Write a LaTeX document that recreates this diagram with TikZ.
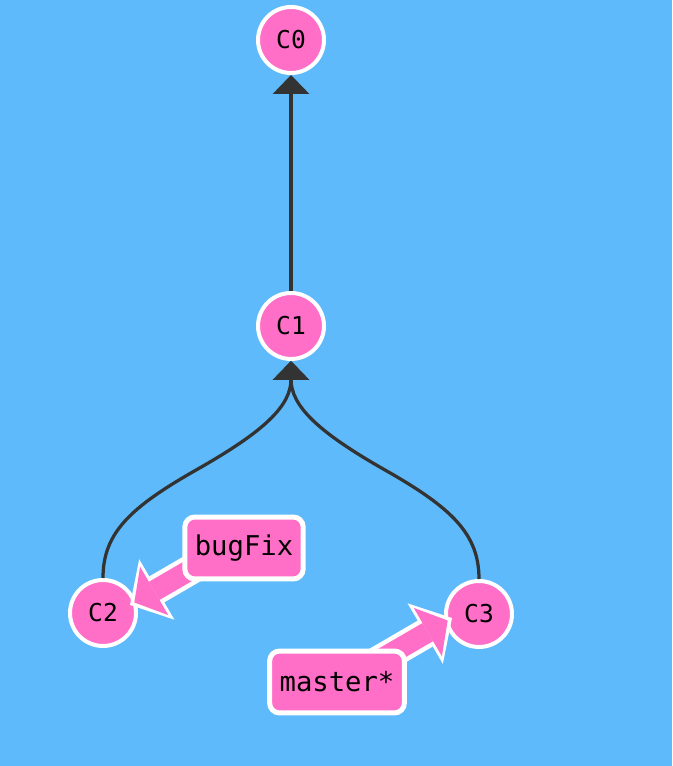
\documentclass[tikz,border=0pt]{standalone}
\usepackage{fontspec}
\setmonofont{DejaVu Sans Mono}
\usetikzlibrary{positioning,calc,arrows.meta}
\definecolor{gitbg}{RGB}{94,186,250}
\definecolor{gitpink}{RGB}{255,110,199}
\definecolor{gitedge}{RGB}{51,51,51}
\pgfdeclarelayer{bg}
\pgfdeclarelayer{fg}
\pgfsetlayers{bg,main,fg}

\begin{document}
\begin{tikzpicture}[x=0.02cm, y=0.02cm,
    commit/.style={circle, fill=gitpink, draw=white, line width=0.08cm, minimum size=1.32cm, inner sep=0pt, font=\ttfamily\fontsize{14}{16}\selectfont},
    branch/.style={rectangle, rounded corners=0.2cm, fill=gitpink, draw=white, line width=0.1cm, minimum height=1.24cm, inner xsep=0.2cm, font=\ttfamily\fontsize{15.5}{18}\selectfont},
    parent/.style={gitedge, line width=0.065cm, -{Triangle[length=0.38cm, width=0.72cm]}},
    ptrout/.style={white, line width=0.6cm, -{Triangle[length=0.62cm, width=1.4cm, line width=0pt]}},
    ptrin/.style={gitpink, line width=0.42cm, shorten >=0.1cm, -{Triangle[length=0.46cm, width=1.12cm, line width=0pt]}}]

    \begin{pgfonlayer}{bg}
        \fill[gitbg] (0,0) rectangle (672,766);
    \end{pgfonlayer}
    \useasboundingbox (0,0) rectangle (672,766);

    % commits
    \node[commit] (C0) at (291,726) {C0};
    \node[commit] (C1) at (291,440) {C1};
    \node[commit] (C2) at (103,153) {C2};
    \node[commit] (C3) at (479,152) {C3};

    \draw[parent] (C1.north) -- (C0.south);
    \draw[parent] (C2.north) .. controls +(0,45) and +(-67,-38) .. ($(C2.north)!0.5!(C1.south)$)
        .. controls +(67,38) and +(0,-45) .. (C1.south);
    \draw[parent] (C3.north) .. controls +(0,45) and +(67,-38) .. ($(C3.north)!0.5!(C1.south)$)
        .. controls +(-67,38) and +(0,-45) .. (C1.south);

    % branches
    \begin{pgfonlayer}{fg}
        \node[branch] (bugFix) at (244,218) {bugFix};
        \node[branch] (master) at (337,84) {master*};
    \end{pgfonlayer}

    \draw[ptrout] ($(bugFix)+(-23,-4)$) -- ($(C2)+(27,8)$);
    \draw[ptrin] ($(bugFix)+(-23,-4)$) -- ($(C2)+(27,8)$);
    \draw[ptrout] ($(master)+(24,11)$) -- ($(C3)+(-27,-4)$);
    \draw[ptrin] ($(master)+(24,11)$) -- ($(C3)+(-27,-4)$);
\end{tikzpicture}
\end{document}
